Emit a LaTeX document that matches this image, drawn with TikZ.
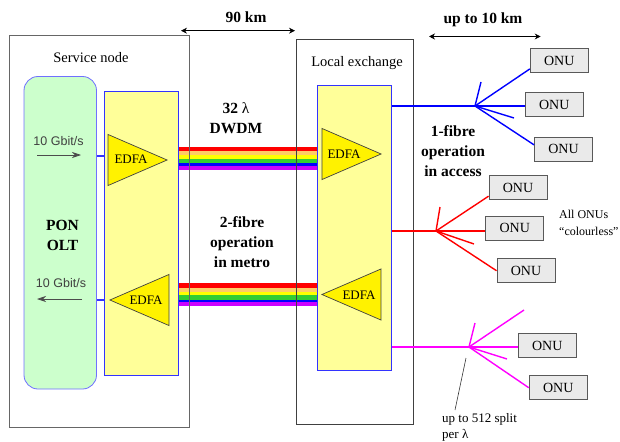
\documentclass[tikz,border=0pt]{standalone}
\usepackage{fontspec}
\setmainfont{Liberation Serif}
\setsansfont{Liberation Sans}
\usepackage{xcolor}
\usetikzlibrary{arrows.meta,shapes.geometric}
\definecolor{olt green}{HTML}{CCFFCC}
\definecolor{amp yellow}{HTML}{FFFF99}
\definecolor{box blue}{HTML}{3333FF}
\definecolor{onu grey}{HTML}{EAEAEA}
\definecolor{pink line}{HTML}{FF00FF}
\newcommand{\pxfont}[1]{\fontsize{#1}{#1}\selectfont}

\begin{document}
\begin{tikzpicture}[
      x = 1pt, y = -1pt,
      site/.style={
        draw = black!60,
        line width = 1pt,
        inner sep = 0pt,
      },
      olt/.style={
        draw = box blue!70,
        fill = olt green,
        line width = .8pt,
        rounded corners = 14pt,
        inner sep = 0pt,
      },
      ampbox/.style={
        draw = box blue,
        fill = amp yellow,
        line width = .8pt,
        inner sep = 0pt,
      },
      edfa/.style={
        isosceles triangle,
        isosceles triangle stretches,
        draw = black!75,
        fill = yellow,
        line width = .7pt,
        inner sep = 0pt,
        anchor = apex,
        minimum width = 51pt,
        minimum height = 59pt,
      },
      edfa text/.style={font = \pxfont{13}, inner sep = 0pt},
      onu/.style={
        draw = black!65,
        fill = onu grey,
        line width = .9pt,
        minimum width = 58pt,
        minimum height = 24pt,
        inner sep = 0pt,
        font = \pxfont{14},
      },
      head/.style={font = \pxfont{14.5}, inner sep = 0pt},
      strong/.style={
        font = \fontsize{15.5}{20.3}\selectfont\bfseries,
        align = center,
        inner sep = 0pt,
      },
      note/.style={
        font = \fontsize{13}{16.5}\selectfont,
        align = left,
        inner sep = 0pt,
      },
      rate/.style={font = \sffamily\pxfont{12.5}, text = black!75, inner sep = 0pt},
      span/.style={{Stealth[length=6pt,width=6pt]}-{Stealth[length=6pt,width=6pt]}, line width = .7pt},
      rate arrow/.style={-{Stealth[length=9pt,width=6pt]}, line width = .7pt, black!70},
      tail/.style={line width = 1.2pt, box blue},
      blue fibre/.style={line width = 1.4pt, blue},
      red fibre/.style={line width = 1.4pt, red},
      pink fibre/.style={line width = 1.4pt, pink line},
    ]
    \useasboundingbox (0, 0) rectangle (620, 441);

    \node[olt, minimum width = 72.5pt, minimum height = 312.5pt] (pon) at (60.25, 232.75) {};
    \node[ampbox, minimum width = 74pt, minimum height = 284.5pt] (ampS) at (141.5, 233.25) {};
    \node[ampbox, minimum width = 74.5pt, minimum height = 284.5pt] (ampL) at (354.25, 227.75) {};

    % Both fibre bundles, the frames go over them.
    \foreach \fibretop in {147, 283.3} {
      \begin{scope}[shift = {(0, \fibretop)}]
        \foreach \bandcolor/\bandfrom/\bandto in {
            {rgb,255:red,255;green,0;blue,0}/0/4.3,
            {rgb,255:red,255;green,204;blue,102}/4.3/8.3,
            {rgb,255:red,255;green,255;blue,0}/8.3/11.7,
            {rgb,255:red,51;green,204;blue,51}/11.7/16.3,
            {rgb,255:red,0;green,0;blue,255}/16.3/19,
            {rgb,255:red,204;green,0;blue,255}/19/22.5} {
          \fill[color = \bandcolor] (ampS.east |- 0, \bandfrom) rectangle (ampL.west |- 0, \bandto);
        }
      \end{scope}
    }

    \node[site, minimum width = 180pt, minimum height = 391pt] (service) at (99, 231.5) {};
    \node[site, draw = black!75, minimum width = 117pt, minimum height = 384pt] (exchange) at (354.5, 232) {};
    \node[head] (serviceLabel) at (91, 58) {Service node};
    \node[head] (exchangeLabel) at (357, 63) {Local exchange};

    \node[edfa] (edfaSa) at (168, 160) {};
    \node[edfa, shape border rotate = 180] (edfaSb) at (109, 300) {};
    \node[edfa] (edfaLa) at (382, 154) {};
    \node[edfa, shape border rotate = 180] (edfaLb) at (321, 294.5) {};
    \node[edfa text] (edfaSaLabel) at (131, 159.5) {EDFA};
    \node[edfa text] (edfaSbLabel) at (146, 300.5) {EDFA};
    \node[edfa text] (edfaLaLabel) at (344, 154) {EDFA};
    \node[edfa text] (edfaLbLabel) at (359, 295) {EDFA};

    \node[strong] (ponLabel) at (62.5, 235.5) {PON\\OLT};
    \node[strong] (dwdmLabel) at (236, 118) {32 {\mdseries λ}\\DWDM};
    \node[strong] (metroLabel) at (242, 242) {2-fibre\\operation\\in metro};
    \node[strong] (accessLabel) at (453, 151) {1-fibre\\operation\\in access};

    \node[rate] (rateUp) at (58.5, 141.5) {10 Gbit/s};
    \node[rate] (rateDown) at (61, 283.5) {10 Gbit/s};
    \coordinate (rateUpA) at (37, 155);
    \coordinate (rateUpB) at (81, 155);
    \coordinate (rateDownA) at (82, 299);
    \coordinate (rateDownB) at (37, 299);
    \draw[rate arrow] (rateUpA) -- (rateUpB);
    \draw[rate arrow] (rateDownA) -- (rateDownB);
    \draw[tail] (pon.east |- 0, 156) -- (ampS.west |- 0, 156);
    \draw[tail] (pon.east |- 0, 300) -- (ampS.west |- 0, 300);

    \node[strong] (metroSpan) at (246, 17) {90 km};
    \node[strong] (accessSpan) at (483, 20) {up to 10 km};
    \coordinate (metroSpanA) at (181, 30.7);
    \coordinate (metroSpanB) at (295, 30.7);
    \coordinate (accessSpanA) at (429, 36.5);
    \coordinate (accessSpanB) at (540.7, 36.5);
    \draw[span] (metroSpanA) -- (metroSpanB);
    \draw[span] (accessSpanA) -- (accessSpanB);

    \node[onu] (onuBa) at (559.25, 60.5) {ONU};
    \node[onu] (onuBb) at (554.25, 104.5) {ONU};
    \node[onu] (onuBc) at (563.5, 149) {ONU};
    \node[onu] (onuRa) at (518, 187.75) {ONU};
    \node[onu] (onuRb) at (514.75, 228) {ONU};
    \node[onu] (onuRc) at (526, 270.75) {ONU};
    \node[onu] (onuPa) at (547.25, 345.75) {ONU};
    \node[onu] (onuPb) at (558.25, 387.75) {ONU};

    \coordinate (hubB) at (475, 106);
    \coordinate (hubR) at (436, 231);
    \coordinate (hubP) at (469, 347);
    \coordinate (spareBa) at (481, 82);
    \coordinate (spareBb) at (514, 118);
    \coordinate (spareRa) at (440, 207);
    \coordinate (spareRb) at (474, 244);
    \coordinate (sparePa) at (524, 310);
    \coordinate (sparePb) at (475, 323);
    \coordinate (sparePc) at (507, 359);

    \draw[blue fibre] (ampL.east |- hubB) -- (hubB) -- (hubB -| onuBb.west);
    \draw[blue fibre] (hubB) -- (onuBa.196);
    \draw[blue fibre] (hubB) -- (onuBc.172);
    \draw[blue fibre] (hubB) -- (spareBa);
    \draw[blue fibre] (hubB) -- (spareBb);

    \draw[red fibre] (ampL.east |- hubR) -- (hubR) -- (hubR -| onuRb.west);
    \draw[red fibre] (hubR) -- (onuRa.196);
    \draw[red fibre] (hubR) -- (onuRc.west);
    \draw[red fibre] (hubR) -- (spareRa);
    \draw[red fibre] (hubR) -- (spareRb);

    \draw[pink fibre] (ampL.east |- hubP) -- (hubP) -- (hubP -| onuPa.west);
    \draw[pink fibre] (hubP) -- (onuPb.west);
    \draw[pink fibre] (hubP) -- (sparePa);
    \draw[pink fibre] (hubP) -- (sparePb);
    \draw[pink fibre] (hubP) -- (sparePc);

    \node[note, font = \fontsize{12}{16.5}\selectfont, anchor = west] (colourNote) at (559, 223) {All ONUs\\``colourless''};
    \node[note, anchor = west] (splitNote) at (442, 427.5) {up to 512 split\\per λ};
    \coordinate (splitFoot) at (455, 410);
    \coordinate (splitTop) at (466, 358);
    \draw[line width = .6pt, black!80] (splitFoot) -- (splitTop);
  \end{tikzpicture}
\end{document}
